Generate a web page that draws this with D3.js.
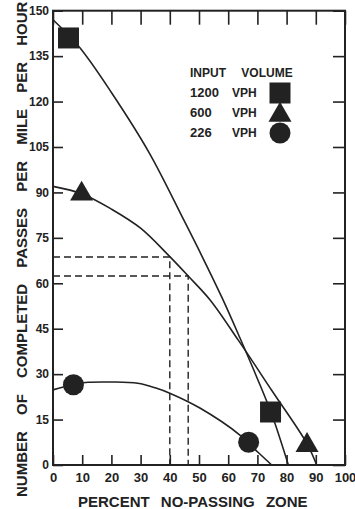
<!DOCTYPE html>
<html>
<head>
<meta charset="utf-8">
<script src="https://cdn.jsdelivr.net/npm/d3@7.9.0/dist/d3.min.js"></script>
<style>
  body { margin: 0; background: #fff; }
  svg { display: block; }
  text { font-family: "Liberation Sans", Arial, sans-serif; font-weight: bold; fill: #222; }
</style>
</head>
<body>
<svg id="chart" width="355" height="509"></svg>
<script>
// fitted curves: [percent no-passing, passes per mile per hour]
const curve1200 = [[0,147],[9,138],[20,123],[33,103],[45,80.5],[51,69],[58,55],[64,42],[70,28.5],[75,16.5],[80.6,0]];
const curve600  = [[0,92],[10,89.5],[20,84.5],[30,78.2],[40,68.8],[46.3,62.4],[53.8,54.5],[63.4,41.3],[75,24.5],[87,7],[90.3,0]];
const curve226  = [[0,24.8],[7,26.6],[12,27.3],[20,27.4],[29,27],[35,25.5],[40,23.7],[50.3,18.8],[64,9.9],[70.2,4.2],[74.9,0]];

// observed points
const pts1200 = [[5.3,141],[74.5,17.5]];
const pts600  = [[9.8,89.5],[87,6.5]];
const pts226  = [[7,26.5],[67,7.5]];

// dashed guide lines (x, y)
const guides = [[40,68.7],[46.3,62.4]];

const xTicks = d3.range(0, 101, 10);
const yTicks = d3.range(0, 151, 15);
const legendRows = [
  {num: '1200', unit: 'VPH', shape: 'square'},
  {num: '600',  unit: 'VPH', shape: 'triangle'},
  {num: '226',  unit: 'VPH', shape: 'circle'}
];

const svg = d3.select('#chart');
const mLeft = 53, mRight = 345, mTop = 10.7, mBottom = 465;
const x = d3.scaleLinear().domain([0, 100]).range([mLeft, mRight]);
const y = d3.scaleLinear().domain([0, 150]).range([mBottom, mTop]);
const ink = '#222';

// axes
svg.append('g').attr('transform', `translate(0,${mBottom})`)
  .call(d3.axisBottom(x).tickValues(xTicks).tickSize(-10).tickPadding(8))
  .call(g => g.selectAll('text').style('font-size', '13px'));
svg.append('g').attr('transform', `translate(0,${mTop})`)
  .call(d3.axisTop(x).tickValues(xTicks).tickSize(-14).tickFormat(''));
svg.append('g').attr('transform', `translate(${mLeft},0)`)
  .call(d3.axisLeft(y).tickValues(yTicks).tickSize(-10).tickPadding(4))
  .call(g => g.selectAll('text').style('font-size', '12px'));
svg.append('g').attr('transform', `translate(${mRight},0)`)
  .call(d3.axisRight(y).tickValues(yTicks).tickSize(-12).tickFormat(''));
svg.selectAll('.domain').remove();
svg.selectAll('.tick line').attr('stroke', ink).attr('stroke-width', 1.6);
svg.selectAll('.tick text').attr('fill', ink);

svg.append('rect')
  .attr('x', mLeft).attr('y', mTop)
  .attr('width', mRight - mLeft).attr('height', mBottom - mTop)
  .attr('fill', 'none').attr('stroke', ink).attr('stroke-width', 2);

// dashed guides
guides.forEach(([gx, gy]) => {
  svg.append('path')
    .attr('d', `M${x(0)},${y(gy)}H${x(gx)}V${y(0)}`)
    .attr('fill', 'none').attr('stroke', ink)
    .attr('stroke-width', 1.4).attr('stroke-dasharray', '7,4');
});

// curves
const line = d3.line().x(d => x(d[0])).y(d => y(d[1])).curve(d3.curveCatmullRom.alpha(0.5));
[curve1200, curve600, curve226].forEach(c => {
  svg.append('path').attr('d', line(c))
    .attr('fill', 'none').attr('stroke', ink).attr('stroke-width', 1.6);
});

// markers
const sq = d3.symbol().type(d3.symbolSquare).size(441);
const tri = d3.symbol().type(d3.symbolTriangle).size(230);
const circ = d3.symbol().type(d3.symbolCircle).size(346);
const shapes = {square: sq, triangle: tri, circle: circ};

function marks(data, sym) {
  svg.append('g').selectAll('path').data(data).join('path')
    .attr('transform', d => `translate(${x(d[0])},${y(d[1])})`)
    .attr('d', sym).attr('fill', ink);
}
marks(pts1200, sq);
marks(pts600, tri);
marks(pts226, circ);

// legend
const lg = svg.append('g');
lg.append('text').attr('x', 190).attr('y', 77)
  .style('font-size', '12px').style('word-spacing', '12px')
  .text('INPUT VOLUME');
legendRows.forEach((r, i) => {
  const by = 97 + i * 20;
  lg.append('text').attr('x', 190).attr('y', by).style('font-size', '13px').text(r.num);
  lg.append('text').attr('x', 232).attr('y', by).style('font-size', '12px').text(r.unit);
  lg.append('path').attr('transform', `translate(280,${by - 4 + (i === 1 ? 2 : 0)})`)
    .attr('d', shapes[r.shape]).attr('fill', ink);
});

// axis titles
svg.append('text')
  .attr('transform', 'translate(26.5,497) rotate(-90)')
  .style('font-size', '15px').style('word-spacing', '12px')
  .text('NUMBER OF COMPLETED PASSES PER MILE PER HOUR');
svg.append('text')
  .attr('x', 78).attr('y', 507)
  .style('font-size', '15px').style('word-spacing', '7px')
  .text('PERCENT NO-PASSING ZONE');
</script>
</body>
</html>
